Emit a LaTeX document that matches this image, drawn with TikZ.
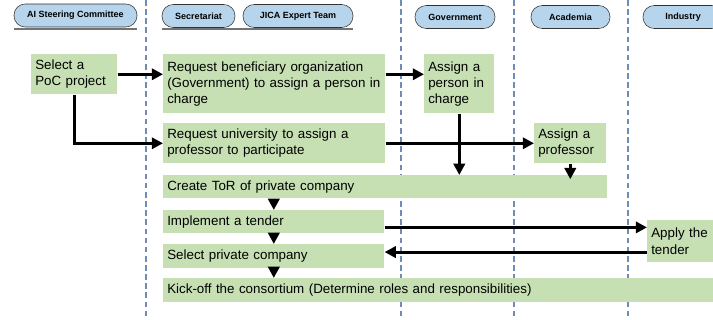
\documentclass[tikz,border=0pt]{standalone}
\usepackage{fontspec}
\setmainfont{Liberation Sans}
\usetikzlibrary{arrows.meta}

\definecolor{taskgreen}{RGB}{198,224,180}
\definecolor{laneblue}{RGB}{182,212,235}
\definecolor{lanedash}{RGB}{112,140,182}

\tikzset{
  lane/.style={draw=black!80, fill=laneblue, rounded corners=8pt, minimum height=0.575cm, inner sep=0pt, font=\fontsize{6.4}{7}\selectfont\bfseries},
  shelf/.style={black!55, line width=1.6pt},
  task/.style={fill=taskgreen, anchor=north west, align=left, inner xsep=0.1cm, inner ysep=0pt, font=\fontsize{9.5}{11.5}\selectfont},
  divider/.style={lanedash, line width=0.8pt, dash pattern=on 4pt off 2.5pt},
  flow/.style={-{Triangle[length=8pt,width=8pt]}, line width=2.1pt},
}

\begin{document}
\begin{tikzpicture}[x=0.025cm, y=-0.025cm]

\useasboundingbox (0,0) rectangle (713,320);
\clip (0,0) rectangle (713,320);

\draw[divider] (146,0) -- (146,320);
\draw[divider] (401,0) -- (401,320);
\draw[divider] (514,0) -- (514,320);
\draw[divider] (628,0) -- (628,320);

\node[lane, minimum width=3.075cm] (steer) at (75.5,15.5) {AI Steering Committee};
\node[lane, minimum width=1.825cm] (secr) at (198.5,16) {Secretariat};
\node[lane, minimum width=2.75cm] (jica) at (298,16) {JICA Expert Team};
\node[lane, minimum width=2cm] (gov) at (455,17) {Government};
\node[lane, minimum width=1.975cm] (acad) at (570.5,17) {Academia};
\node[lane, minimum width=2cm] (indus) at (683,17) {Industry};

\draw[shelf] ([yshift=-1pt]steer.south west) -- ([yshift=-1pt]steer.south east);
\draw[shelf] ([yshift=-1pt]secr.south west) -- ([yshift=-1pt]jica.south east);

\node[task, minimum width=2.15cm, minimum height=1cm, text width=1.95cm] (poc) at (31,54) {Select a\\PoC project};
\node[task, minimum width=5.55cm, minimum height=1.475cm, text width=5.35cm] (reqgov) at (163,54) {Request beneficiary organization\\(Government) to assign a person in\\charge};
\node[task, minimum width=1.75cm, minimum height=1.475cm, text width=1.55cm] (assignp) at (424,54) {Assign a\\person in\\charge};
\node[task, minimum width=5.55cm, minimum height=1cm, text width=5.35cm] (reqprof) at (163,123) {Request university to assign a\\professor to participate};
\node[task, minimum width=1.8cm, minimum height=1cm, text width=1.6cm] (assignprof) at (534,123) {Assign a\\professor};
\node[task, minimum width=11.1cm, minimum height=0.575cm, text width=10.9cm] (tor) at (163,175) {Create ToR of private company};
\node[task, minimum width=5.525cm, minimum height=0.575cm, text width=5.325cm] (tender) at (163,210) {Implement a tender};
\node[task, minimum width=5.525cm, minimum height=0.6cm, text width=5.325cm] (select) at (163,244) {Select private company};
\node[task, minimum width=13.925cm, minimum height=0.6cm, text width=13.725cm] (kickoff) at (163,278) {Kick-off the consortium (Determine roles and responsibilities)};
\node[task, minimum width=2cm, minimum height=1.05cm, text width=1.8cm] (apply) at (647,220) {Apply the\\tender};

\draw[flow] (poc.east) -- (poc.east -| reqgov.west);
\draw[flow] (poc.south) |- (reqprof.west);
\draw[flow] (poc.east -| reqgov.east) -- (poc.east -| assignp.west);
\draw[flow] (assignp.south) -- (assignp.south |- tor.north);
\draw[flow] (reqprof.east) -- (assignprof.west);
\draw[flow] (assignprof.south) -- ([yshift=-3pt]assignprof.south |- tor.north);
\draw[flow] (tender.north |- tor.south) -- (tender.north);
\draw[flow] (tender.south) -- (select.north);
\draw[flow] (select.south) -- (select.south |- kickoff.north);
\draw[flow] ([yshift=-4pt]tender.east) -- ([yshift=-4pt]tender.east -| apply.west);
\draw[flow] ([yshift=3pt]apply.west |- select.east) -- ([yshift=3pt]select.east);

\end{tikzpicture}
\end{document}
